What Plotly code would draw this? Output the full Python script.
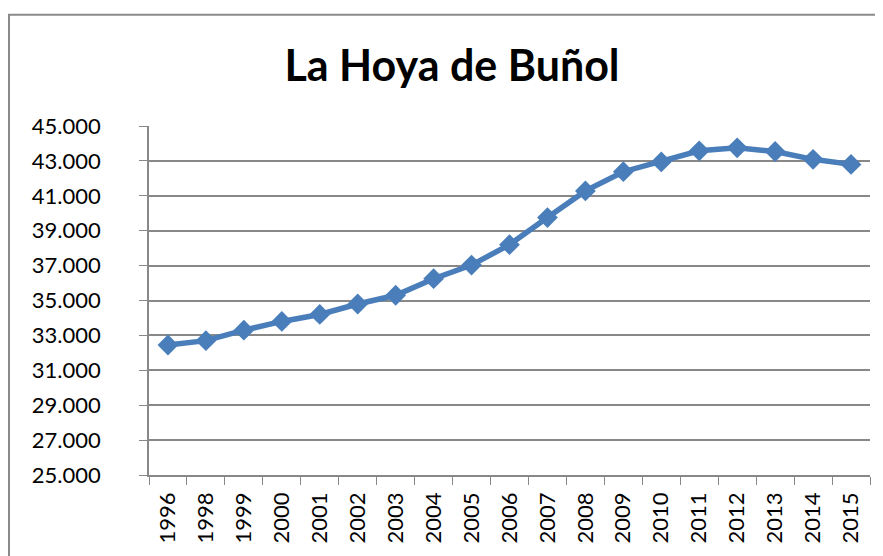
import plotly.graph_objects as go

years = ["1996", "1998", "1999", "2000", "2001", "2002", "2003", "2004", "2005", "2006",
         "2007", "2008", "2009", "2010", "2011", "2012", "2013", "2014", "2015"]
population = [32450, 32700, 33300, 33800, 34200, 34800, 35300, 36250, 37030, 38200,
              39750, 41280, 42380, 42940, 43580, 43750, 43540, 43090, 42800]

y_ticks = list(range(25000, 45001, 2000))

LINE_BLUE = "#4a7ebb"
GRID_GRAY = "#888888"
FONT = "Lato"

# the page body has an 8px margin, so the figure is drawn 8px smaller
W, H = 875, 548

fig = go.Figure()

fig.add_trace(go.Scatter(
    x=years,
    y=population,
    mode="lines+markers",
    line=dict(color=LINE_BLUE, width=5.5),
    marker=dict(symbol="diamond", size=16, color=LINE_BLUE),
    showlegend=False,
))

fig.update_layout(
    width=W,
    height=H,
    margin=dict(l=141, r=13, t=118, b=81),
    paper_bgcolor="white",
    plot_bgcolor="white",
    separators=",.",
    font=dict(family=FONT, size=22, color="black"),
    title=dict(
        text="<b>La Hoya de Buñol</b>",
        font=dict(family=FONT, size=43, color="black"),
        x=(452 - 8) / W, xref="container", xanchor="center",
        y=1 - (66 - 8) / H, yref="container", yanchor="middle",
    ),
    xaxis=dict(
        type="category",
        range=[-0.5, len(years) - 0.5],
        tickangle=-90,
        tickson="boundaries",
        ticks="outside",
        ticklen=8,
        tickcolor=GRID_GRAY,
        showline=True,
        linecolor=GRID_GRAY,
        linewidth=1.5,
        showgrid=False,
        ticklabelstandoff=7,
        automargin=False,
    ),
    yaxis=dict(
        range=[25000, 45000],
        tickvals=y_ticks,
        tickformat=",.0f",
        ticks="outside",
        ticklen=8,
        tickcolor=GRID_GRAY,
        showline=True,
        linecolor=GRID_GRAY,
        linewidth=1.5,
        showgrid=True,
        gridcolor=GRID_GRAY,
        gridwidth=1.5,
        zeroline=False,
        ticklabelstandoff=34,
        automargin=False,
    ),
    shapes=[dict(
        type="rect", xref="paper", yref="paper",
        x0=-140 / 721, x1=1.3, y0=-0.6, y1=1.319,
        line=dict(color="#8a8a8a", width=2),
        fillcolor="rgba(0,0,0,0)",
        layer="below",
    )],
)

fig.write_html("out.html")
